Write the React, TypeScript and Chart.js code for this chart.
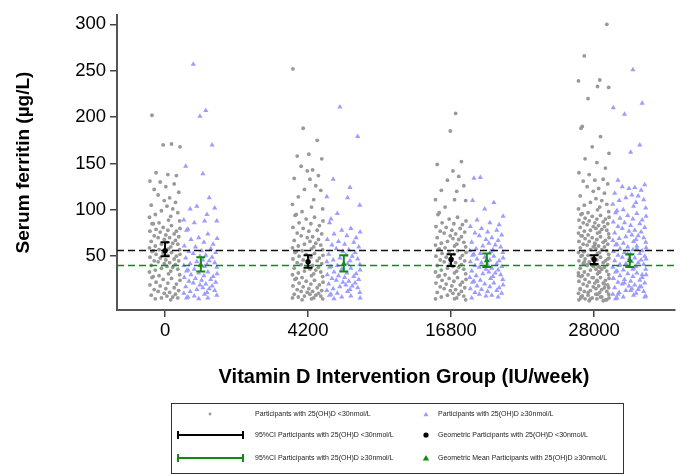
import React, { useEffect, useRef } from "react";
import { Chart, registerables } from "chart.js";

Chart.register(...registerables);

// ---- data ----
const GROUPS = ["0", "4200", "16800", "28000"];
const Y_TICKS = [50, 100, 150, 200, 250, 300];

// Serum ferritin, participants with 25(OH)D <30nmol/L
const LOW_0 = [202,171,170,168,140,138,137,131,130,128,125,122,119,116,113,110,108,105,104,101,99,97,95,93,92,89,88,86,85,85,83,81,80,79,78,77,77,76,74,73,72,71,70,70,68,67,66,65,64,63,63,61,60,59,58,57,57,56,55,54,53,52,52,51,50,49,48,47,46,45,45,44,43,42,41,40,39,38,37,36,35,34,33,31,30,29,28,27,26,25,24,22,21,20,19,18,16,15,14,13,12,11,10,9,8,7,6,5,5,4,3];
const LOW_1 = [252,188,175,160,158,155,147,143,142,137,134,133,126,122,121,114,111,106,103,101,98,95,94,92,90,88,86,85,83,81,80,78,77,75,74,72,71,70,68,67,66,64,63,62,61,60,59,58,57,56,55,54,53,52,51,50,49,48,47,46,45,44,43,42,41,40,39,38,37,36,35,34,33,32,31,30,29,28,27,26,25,24,23,22,21,20,19,18,17,16,15,14,13,12,12,11,10,9,9,8,7,7,6,5,5,4,4,3];
const LOW_2 = [204,185,152,149,142,136,132,126,121,120,111,111,110,103,97,95,92,90,88,86,85,84,82,81,80,78,77,76,75,74,72,71,70,69,68,66,65,64,63,62,61,60,59,58,57,56,55,54,53,52,51,50,49,48,47,46,45,44,43,42,41,40,39,38,37,36,35,34,33,32,31,30,29,28,27,26,25,24,23,22,21,20,19,18,17,16,15,14,13,12,11,10,9,8,7,6,5,4,4,3];
const LOW_3 = [300,266,240,239,233,232,220,190,188,179,168,161,155,151,145,140,138,133,132,131,128,125,123,120,118,115,112,110,108,106,105,103,101,100,98,97,96,95,94,93,92,91,90,90,89,88,87,86,86,85,84,83,82,82,81,80,79,78,78,77,76,75,75,74,73,72,72,71,70,70,69,68,67,66,66,65,64,63,63,62,61,60,60,59,58,57,57,56,55,54,54,53,52,51,51,50,49,48,48,47,46,45,45,44,43,42,42,41,40,39,39,38,37,36,36,35,34,33,33,32,31,30,30,29,28,27,27,26,25,24,24,23,22,21,21,20,19,18,18,17,16,15,15,14,13,12,12,11,10,9,9,8,7,6,6,5,5,4,4,3,3,2,2,62,55,47,41,33,27,20,14,9,6,4,3,44,38,29,23,16,11,7,5];

// Serum ferritin, participants with 25(OH)D >=30nmol/L
const HIGH_0 = [257,207,201,170,147,139,113,104,102,101,95,89,88,88,86,79,78,74,70,69,68,65,63,61,60,58,56,55,54,53,51,50,49,48,46,45,44,43,42,41,40,39,38,36,35,34,33,32,31,30,29,28,27,26,25,24,23,22,21,20,19,18,17,16,15,14,13,12,11,10,9,8,7,6,5,5,4];
const HIGH_1 = [211,179,133,124,114,113,105,96,90,86,80,78,76,74,72,70,68,66,65,63,62,60,58,57,55,54,52,51,50,48,47,46,45,44,42,41,40,39,38,37,36,35,33,32,31,30,29,28,27,26,25,24,23,22,21,20,19,18,17,16,15,14,13,12,11,10,9,8,7,6,5,4];
const HIGH_2 = [135,134,110,108,101,93,89,86,84,82,80,78,76,75,73,72,70,68,67,65,64,62,61,60,58,57,56,55,54,53,52,51,50,49,48,47,46,45,44,43,42,41,40,39,38,37,36,35,34,33,32,31,30,29,28,27,26,25,24,23,22,21,20,19,18,17,16,15,14,13,12,11,10,9,8,7,6,5];
const HIGH_3 = [251,215,210,203,170,162,132,127,125,124,123,121,118,116,115,113,111,110,108,106,104,102,100,99,97,96,94,93,91,90,89,87,86,85,83,82,81,80,78,77,76,75,73,72,71,70,69,68,67,66,65,64,63,62,61,60,59,58,57,56,55,54,53,52,51,50,49,48,47,46,45,44,43,42,41,40,39,38,37,36,35,34,33,32,31,30,29,28,27,26,25,24,23,22,21,20,19,18,17,16,15,14,13,12,11,10,9,8,7,6,5,4,58,52,47,41,36,30,26,21,17,13,9,6];

// geometric means and 95% CI per group
const GM_LOW = [56, 44, 46.5, 46.5];
const CI_LOW_LO = [50, 37.5, 39.5, 41.5];
const CI_LOW_HI = [65, 51, 52, 51];
const GM_HIGH = [40.5, 41.5, 45.5, 45.5];
const CI_HIGH_LO = [33.5, 33.5, 38.5, 38.5];
const CI_HIGH_HI = [49, 51, 53, 52];
// overall geometric means (reference lines)
const OVERALL_GM_LOW = 56.6;
const OVERALL_GM_HIGH = 40.5;

const X_TITLE = "Vitamin D Intervention Group (IU/week)";
const Y_TITLE = "Serum ferritin (\u00b5g/L)";
const LEGEND_LABELS = [
  "Participants with 25(OH)D <30nmol/L",
  "Participants with 25(OH)D \u226530nmol/L",
  "95%CI Participants with 25(OH)D <30nmol/L",
  "Geometric Participants with 25(OH)D <30nmol/L",
  "95%CI Participants with 25(OH)D \u226530nmol/L",
  "Geometric Mean Participants with 25(OH)D \u226530nmol/L",
];

// hand-typed jitter pattern (fraction of half-width)
const JITTER = [-0.83,0.41,-0.12,0.95,-0.57,0.18,0.72,-0.96,-0.31,0.58,0.05,-0.69,0.87,-0.44,0.29,-0.05,0.66,-0.88,0.12,0.49,-0.23,0.81,-0.62,0.36,-0.99,0.22,0.93,-0.38,-0.75];

const LOW_SETS = [LOW_0, LOW_1, LOW_2, LOW_3];
const HIGH_SETS = [HIGH_0, HIGH_1, HIGH_2, HIGH_3];

const LOW_OFFSET = 0;
const HIGH_OFFSET = 0.25;
const LOW_HALF = 0.11;
const HIGH_HALF = 0.12;

const GRAY = "#999999";
const BLUE = "#9d9dff";
const GREEN = "#108a10";
const FONT = "'Liberation Sans', Arial, Helvetica, sans-serif";

function buildPoints(sets: number[][], offset: number, half: number, shift: number) {
  const pts: { x: number; y: number }[] = [];
  sets.forEach((vals, g) => {
    vals.forEach((v, i) => {
      const j = JITTER[(i + g * 7 + shift) % JITTER.length];
      pts.push({ x: g + offset + j * half, y: v });
    });
  });
  return pts;
}

function drawTriangle(ctx: CanvasRenderingContext2D, x: number, y: number, r: number) {
  ctx.beginPath();
  ctx.moveTo(x, y - r);
  ctx.lineTo(x + r * 0.95, y + r * 0.6);
  ctx.lineTo(x - r * 0.95, y + r * 0.6);
  ctx.closePath();
  ctx.fill();
}

const decorPlugin = {
  id: "decor",
  afterDatasetDraw(chart: any, args: any) {
    if (args.index !== 1) return;
    const ctx = chart.ctx as CanvasRenderingContext2D;
    const { left, right } = chart.chartArea;
    const xs = chart.scales.x;
    const ys = chart.scales.y;
    ctx.save();
    ctx.setLineDash([7, 4]);
    ctx.lineWidth = 1.6;
    ctx.strokeStyle = "#111";
    let y = Math.round(ys.getPixelForValue(OVERALL_GM_LOW)) + 0.5;
    ctx.beginPath(); ctx.moveTo(left, y); ctx.lineTo(right, y); ctx.stroke();
    ctx.strokeStyle = GREEN;
    y = Math.round(ys.getPixelForValue(OVERALL_GM_HIGH)) + 0.5;
    ctx.beginPath(); ctx.moveTo(left, y); ctx.lineTo(right, y); ctx.stroke();
    ctx.setLineDash([]);
    const drawBar = (xv: number, lo: number, hi: number, color: string) => {
      const px = xs.getPixelForValue(xv);
      const p1 = ys.getPixelForValue(lo);
      const p2 = ys.getPixelForValue(hi);
      ctx.strokeStyle = color;
      ctx.lineWidth = 2;
      ctx.beginPath();
      ctx.moveTo(px, p1); ctx.lineTo(px, p2);
      ctx.moveTo(px - 4.5, p1); ctx.lineTo(px + 4.5, p1);
      ctx.moveTo(px - 4.5, p2); ctx.lineTo(px + 4.5, p2);
      ctx.stroke();
    };
    GROUPS.forEach((_, g) => {
      drawBar(g + LOW_OFFSET, CI_LOW_LO[g], CI_LOW_HI[g], "#000");
      drawBar(g + HIGH_OFFSET, CI_HIGH_LO[g], CI_HIGH_HI[g], GREEN);
    });
    ctx.restore();
  },
  afterDraw(chart: any) {
    const ctx = chart.ctx as CanvasRenderingContext2D;
    const { left, right, top, bottom } = chart.chartArea;
    ctx.save();
    ctx.fillStyle = "#000";
    ctx.textAlign = "center";
    ctx.textBaseline = "middle";
    ctx.font = `bold 20px ${FONT}`;
    ctx.fillText(X_TITLE, (left + right) / 2 + 8, 377);
    ctx.save();
    ctx.font = `bold 19px ${FONT}`;
    ctx.translate(24, (top + bottom) / 2);
    ctx.rotate(-Math.PI / 2);
    ctx.fillText(Y_TITLE, 0, 0);
    ctx.restore();

    // legend box
    ctx.strokeStyle = "#333";
    ctx.lineWidth = 1;
    ctx.strokeRect(171.5, 403.5, 452, 70);
    const rows = [414, 435, 458];
    const c1Sym = 210, c1Text = 255, c2Sym = 426, c2Text = 438;
    ctx.font = `7px ${FONT}`;
    ctx.textAlign = "left";
    ctx.fillStyle = "#222";
    ctx.fillText(LEGEND_LABELS[0], c1Text, rows[0]);
    ctx.fillText(LEGEND_LABELS[1], c2Text, rows[0]);
    ctx.fillText(LEGEND_LABELS[2], c1Text, rows[1]);
    ctx.fillText(LEGEND_LABELS[3], c2Text, rows[1]);
    ctx.fillText(LEGEND_LABELS[4], c1Text, rows[2]);
    ctx.fillText(LEGEND_LABELS[5], c2Text, rows[2]);
    ctx.fillStyle = GRAY;
    ctx.beginPath(); ctx.arc(c1Sym, rows[0], 1.4, 0, Math.PI * 2); ctx.fill();
    ctx.fillStyle = BLUE;
    drawTriangle(ctx, c2Sym, rows[0] + 0.5, 2.8);
    const legBar = (yy: number, color: string) => {
      ctx.strokeStyle = color;
      ctx.lineWidth = 2;
      ctx.beginPath();
      ctx.moveTo(178, yy); ctx.lineTo(243, yy);
      ctx.moveTo(178, yy - 4); ctx.lineTo(178, yy + 4);
      ctx.moveTo(243, yy - 4); ctx.lineTo(243, yy + 4);
      ctx.stroke();
    };
    legBar(rows[1], "#000");
    legBar(rows[2], GREEN);
    ctx.fillStyle = "#000";
    ctx.beginPath(); ctx.arc(c2Sym, rows[1], 2.6, 0, Math.PI * 2); ctx.fill();
    ctx.fillStyle = GREEN;
    drawTriangle(ctx, c2Sym, rows[2] + 0.5, 3.4);
    ctx.restore();
  },
};

export default function App() {
  const ref = useRef<HTMLCanvasElement | null>(null);
  useEffect(() => {
    document.body.style.margin = "0";
    const canvas = ref.current;
    if (!canvas) return;
    const lowPts = buildPoints(LOW_SETS, LOW_OFFSET, LOW_HALF, 0);
    const highPts = buildPoints(HIGH_SETS, HIGH_OFFSET, HIGH_HALF, 13);
    const gmLow = GM_LOW.map((v, g) => ({ x: g + LOW_OFFSET, y: v }));
    const gmHigh = GM_HIGH.map((v, g) => ({ x: g + HIGH_OFFSET, y: v }));
    const tickFont = { family: FONT, size: 18.5 };
    const chart = new Chart(canvas, {
      type: "scatter",
      data: {
        datasets: [
          { data: lowPts, pointStyle: "circle", pointRadius: 1.9, backgroundColor: GRAY, borderWidth: 0, order: 4 },
          { data: highPts, pointStyle: "triangle", pointRadius: 3, backgroundColor: BLUE, borderColor: BLUE, borderWidth: 0, order: 3 },
          { data: gmLow, pointStyle: "circle", pointRadius: 2.7, backgroundColor: "#000", borderWidth: 0, order: 2 },
          { data: gmHigh, pointStyle: "triangle", pointRadius: 3.5, backgroundColor: GREEN, borderColor: GREEN, borderWidth: 0, order: 1 },
        ],
      },
      options: {
        animation: false,
        responsive: false,
        events: [],
        layout: { padding: { top: 8, right: 7, left: 0, bottom: 0 } },
        plugins: { legend: { display: false }, tooltip: { enabled: false } },
        scales: {
          x: {
            type: "linear",
            min: -0.336,
            max: 3.566,
            afterBuildTicks: (s: any) => { s.ticks = GROUPS.map((_, i) => ({ value: i })); },
            ticks: { font: tickFont, color: "#000", padding: 3, callback: (v: any) => GROUPS[v] ?? "", maxRotation: 0, autoSkip: false },
            grid: { drawOnChartArea: false, drawTicks: true, tickLength: 7, color: "#444", lineWidth: 1.5 },
            border: { display: true, color: "#555", width: 2 },
            afterFit: (s: any) => { s.height = 475 - 310; },
          },
          y: {
            type: "linear",
            min: -8,
            max: 310,
            afterBuildTicks: (s: any) => { s.ticks = Y_TICKS.map((v) => ({ value: v })); },
            ticks: { font: tickFont, color: "#000", padding: 4 },
            grid: { drawOnChartArea: false, drawTicks: true, tickLength: 7, color: "#444", lineWidth: 1.5 },
            border: { display: true, color: "#555", width: 2 },
            afterFit: (s: any) => { s.width = 117; },
          },
        },
      },
      plugins: [decorPlugin],
    } as any);
    return () => chart.destroy();
  }, []);
  return <canvas ref={ref} width={682} height={475} style={{ display: "block", width: 682, height: 475 }} />;
}
